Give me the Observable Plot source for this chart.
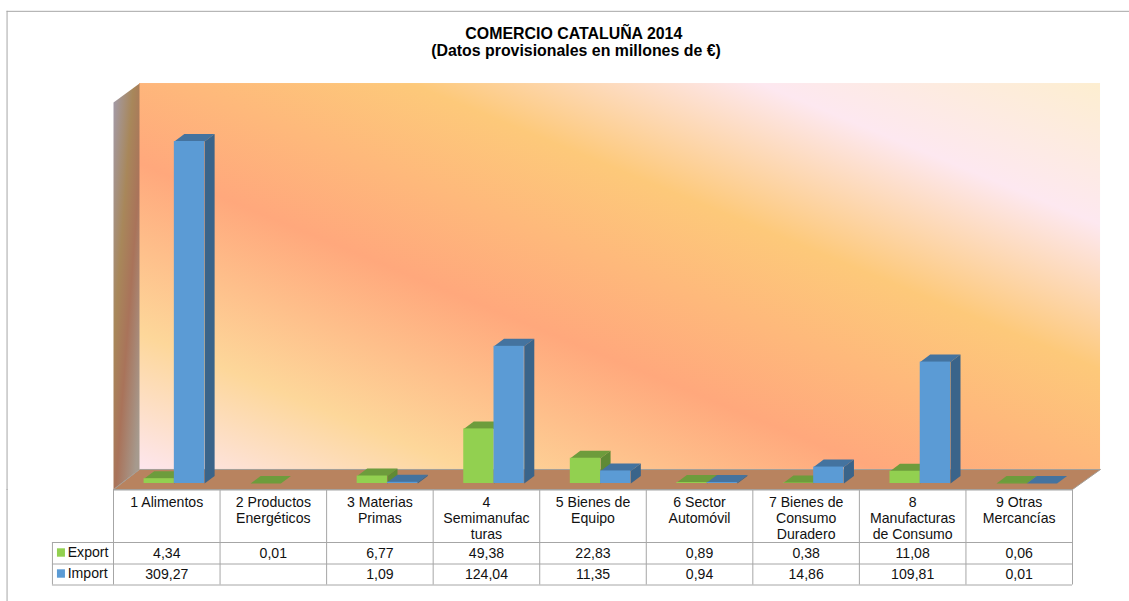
<!DOCTYPE html>
<html><head><meta charset="utf-8">
<script src="https://cdn.jsdelivr.net/npm/d3@7"></script>
<script src="https://cdn.jsdelivr.net/npm/@observablehq/plot@0.6"></script>
<style>
html,body{margin:0;padding:0;background:#fff}
#chart{position:relative;width:1129px;height:601px;overflow:hidden}
#chart svg{display:block;position:absolute;left:0}
</style></head><body><div id="chart"></div>
<script>
const categories = ["1 Alimentos","2 Productos\nEnergéticos","3 Materias\nPrimas","4\nSemimanufac\nturas","5 Bienes de\nEquipo","6 Sector\nAutomóvil","7 Bienes de\nConsumo\nDuradero","8\nManufacturas\nde Consumo","9 Otras\nMercancías"];
const exportValues = [4.34,0.01,6.77,49.38,22.83,0.89,0.38,11.08,0.06];
const importValues = [309.27,null,1.09,124.04,11.35,0.94,14.86,109.81,0.01];
const exportLabels = ["4,34","0,01","6,77","49,38","22,83","0,89","0,38","11,08","0,06"];
const importLabels = ["309,27","","1,09","124,04","11,35","0,94","14,86","109,81","0,01"];
const titleLines = ["COMERCIO CATALUÑA 2014","(Datos provisionales en millones de €)"];

const font = "'Liberation Sans', Arial, sans-serif";
const GREEN={front:"#92d050",top:"#6d9c3c",side:"#5f8a35"};
const BLUE={front:"#5b9bd5",top:"#44739f",side:"#3a648a"};

// layout, in scale units
const barStart=0.287, barW=0.284, depthX=0.094, depthY=6.8;
const bars=[];
categories.forEach((c,i)=>{
  bars.push({i,s:"Export",v:exportValues[i],x1:i+barStart,x2:i+barStart+barW,c:GREEN});
  if(importValues[i]!=null) bars.push({i,s:"Import",v:importValues[i],x1:i+barStart+barW,x2:i+barStart+2*barW,c:BLUE});
});
const poly=(b,kind)=>{
  const {x1,x2,v}=b, dx=depthX, dy=depthY;
  const pts= kind==="top" ? [[x1,v],[x2,v],[x2+dx,v+dy],[x1+dx,v+dy]]
                          : [[x2,0],[x2+dx,dy],[x2+dx,v+dy],[x2,v]];
  return pts.map(([x,y])=>({x,y,id:b.s+b.i+kind,fill:b.c[kind]}));
};
const polyMark=(rows,opts={})=>Plot.line(rows,{x:"x",y:"y",z:"id",fill:"fill",stroke:null,curve:"linear",...opts});
const shape=(id,fill,pts)=>pts.map(([x,y])=>({x,y,id,fill}));

const xOpts={domain:[0,9],range:[113,1072]};
const topH=490;
const wallX=[0.244,9.263], wallY=[12.7,361.7];

const defs=()=>{
  const ns="http://www.w3.org/2000/svg";
  const d=document.createElementNS(ns,"defs");
  d.innerHTML=`<linearGradient id="wall" gradientUnits="userSpaceOnUse" x1="481" y1="610.5" x2="758" y2="-58.5">
   <stop offset="0" stop-color="#fde6ee"/><stop offset=".173" stop-color="#fdd79a"/>
   <stop offset=".39" stop-color="#ffa87c"/><stop offset=".635" stop-color="#fdc97a"/>
   <stop offset=".82" stop-color="#fde8f0"/><stop offset="1" stop-color="#fdeed0"/></linearGradient>
   <linearGradient id="leftwall" gradientUnits="userSpaceOnUse" x1="99" y1="288" x2="151" y2="292">
   <stop offset="0" stop-color="#a39aa5"/><stop offset=".35" stop-color="#a8875a"/><stop offset=".6" stop-color="#a9735a"/><stop offset=".96" stop-color="#a69a8e"/></linearGradient>`;
  return d;
};

const frameTop=427;
const topPlot=Plot.plot({
  width:1129,height:topH,margin:0,style:{background:"transparent",fontFamily:font},
  x:{...xOpts,axis:null},
  y:{domain:[0,310],range:[483,483-342.8],axis:null},
  marks:[
    defs,
    // frame of the chart object
    Plot.ruleY([frameTop],{x1:-0.999,x2:9.6,stroke:"#a6a6a6"}),
    Plot.ruleX([-0.999],{y1:-6.3,y2:frameTop,stroke:"#a6a6a6"}),
    // wall
    Plot.rect([0],{x1:wallX[0],x2:wallX[1],y1:wallY[0],y2:wallY[1],fill:"url(#wall)"}),
    polyMark(shape("lw","url(#leftwall)",[[0,-5.4],[0,344.5],[wallX[0],wallY[1]],[wallX[0],wallY[0]]])),
    polyMark(shape("fl","#b8835f",[[0,-5.4],[9,-5.4],[wallX[1],wallY[0]],[wallX[0],wallY[0]],[0,-5.4]]),{stroke:"#a39d96",strokeWidth:1}),
    // bars
    polyMark(bars.filter(b=>b.s==="Export").flatMap(b=>poly(b,"top"))),
    polyMark(bars.filter(b=>b.s==="Export").flatMap(b=>poly(b,"side"))),
    Plot.rect(bars.filter(b=>b.s==="Export"),{x1:"x1",x2:"x2",y1:0,y2:"v",fill:b=>b.c.front}),
    polyMark(bars.filter(b=>b.s==="Import").flatMap(b=>poly(b,"top"))),
    polyMark(bars.filter(b=>b.s==="Import").flatMap(b=>poly(b,"side"))),
    Plot.rect(bars.filter(b=>b.s==="Import"),{x1:"x1",x2:"x2",y1:0,y2:"v",fill:b=>b.c.front}),
    // title
    Plot.text(titleLines.slice(0,1),{x:4.32,frameAnchor:"top",text:d=>d,fontSize:15.9,fontWeight:"bold",fill:"#000",lineAnchor:"middle",dy:33}),
    Plot.text(titleLines.slice(1),{x:4.34,frameAnchor:"top",text:d=>d,fontSize:15.9,fontWeight:"bold",fill:"#000",lineAnchor:"middle",dy:50})
  ]
});

// table
const edges=[-0.5,52,73.5,94.5];
const gridC="#a6a6a6";
const xs=d3.range(0,10);
const rowY={Export:63.3,Import:84.3};
const cells=[
  ...exportLabels.map((t,i)=>({i,t,y:rowY.Export})),
  ...importLabels.map((t,i)=>({i,t,y:rowY.Import}))
];
const labelX=-0.43, leftX=-0.573;
const tbl=Plot.plot({
  width:1129,height:112,margin:0,style:{background:"transparent",fontFamily:font},
  x:{...xOpts,axis:null},
  y:{domain:[-1,111],range:[0,112],axis:null},
  marks:[
    Plot.ruleX([-0.999],{y1:-1,y2:111,stroke:"#a6a6a6"}),
    Plot.ruleX(xs,{y1:edges[0],y2:edges[3],stroke:gridC}),
    Plot.ruleX([leftX],{y1:edges[1],y2:edges[3],stroke:gridC}),
    Plot.ruleY([edges[0]],{x1:0,x2:9,stroke:gridC}),
    Plot.ruleY(edges.slice(1),{x1:leftX,x2:9,stroke:gridC}),
    Plot.text(categories,{x:(d,i)=>i+0.5,y:5.3,text:d=>d,fontSize:14.1,fill:"#111",lineAnchor:"top",lineHeight:1.135}),
    Plot.text(cells,{x:d=>d.i+0.5,y:"y",text:"t",fontSize:14.1,fill:"#111"}),
    Plot.rect(["Export","Import"],{x1:leftX+0.047,x2:leftX+0.122,y1:d=>rowY[d]-5,y2:d=>rowY[d]+3.4,fill:d=>d==="Export"?GREEN.front:BLUE.front}),
    Plot.text(["Export","Import"],{x:labelX,y:d=>rowY[d]-1,text:d=>d,textAnchor:"start",fontSize:14.1,fill:"#111"})
  ]
});
topPlot.style.top="0px"; tbl.style.top="489px";
document.getElementById("chart").append(topPlot,tbl);
</script></body></html>
